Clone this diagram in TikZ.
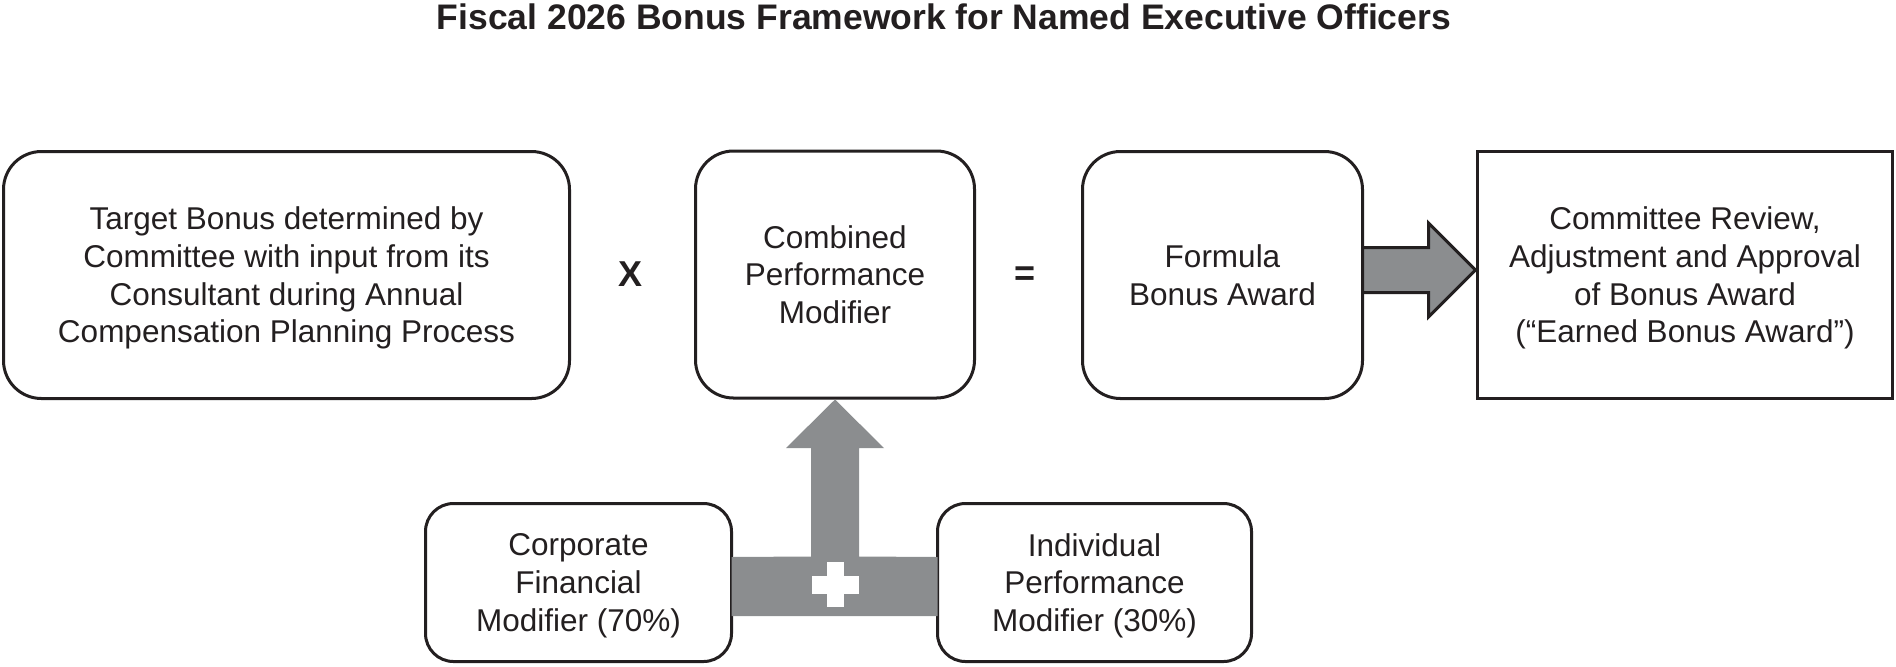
\documentclass[tikz,border=0pt]{standalone}
\usepackage{fontspec}
\setmainfont{Liberation Sans}
\usetikzlibrary{calc}
\definecolor{ink}{RGB}{35,31,32}
\definecolor{arrowgray}{RGB}{139,141,143}
\begin{document}
\begin{tikzpicture}[x=0.5pt,y=-0.5pt,
  txt/.style={font=\fontsize{15.75pt}{18.85pt}\selectfont, text=ink, align=center},
  boxbase/.style={txt, draw=ink, line width=1.5pt, inner sep=0pt, outer sep=0pt, fill=white},
  bigbox/.style={boxbase, rounded corners=19pt, minimum height=123.5pt},
  smallbox/.style={boxbase, rounded corners=14pt, minimum height=79pt},
  sqbox/.style={boxbase, minimum height=123.5pt},
  opsign/.style={font=\fontsize{18pt}{20pt}\selectfont\bfseries, text=ink, inner sep=0pt},
  grayarrow/.style={fill=arrowgray, draw=ink, line width=1.5pt, line join=miter},
  grayband/.style={fill=arrowgray, draw=none}
]
\useasboundingbox (0,0) rectangle (1896,666);

% title
\node[font=\fontsize{17.75pt}{20pt}\selectfont\bfseries, text=ink, inner sep=0pt] (title) at (944,17)
  {Fiscal 2026 Bonus Framework for Named Executive Officers};

% top row
\node[bigbox, minimum width=283pt] (b1) at (286.5,275)
  {Target Bonus determined by\\Committee with input from its\\Consultant during Annual\\\smash{Compensation Planning Process}};
\node[opsign] (times) at (630,274) {X};
\node[bigbox, minimum width=139.5pt] (b2) at (835,274.5)
  {Combined\\Performance\\Modifier};
\node[opsign] (eq) at (1025,276) {=};
\node[bigbox, minimum width=140pt] (b3) at (1222.5,275)
  {Formula\\Bonus Award};
\node[sqbox, minimum width=207.5pt] (b4) at (1685,275)
  {Committee Review,\\Adjustment and Approval\\of Bonus Award\\\smash{(“Earned Bonus Award”)}};

% bottom row
\node[smallbox, minimum width=153pt] (b5) at (578.5,582.5)
  {Corporate\\Financial\\\smash{Modifier (70\%)}};
\node[smallbox, minimum width=157pt] (b6) at (1094.5,582.5)
  {Individual\\Performance\\\smash{Modifier (30\%)}};

% arrow from Formula Bonus Award to Committee Review
\draw[grayarrow] ($(b3.east)+(0,-27.5)$) -- ($(b3.east)+(66,-27.5)$) -- ($(b3.east)+(66,-52)$)
  -- ($(b4.west)+(-2,-5)$) -- ($(b3.east)+(66,42)$) -- ($(b3.east)+(66,17.5)$)
  -- ($(b3.east)+(0,17.5)$) -- cycle;

% combining band and up arrow into Combined Performance Modifier
\fill[grayband] ($(b5.east)+(0,-25.5)$) -- ($(b2.south)+(-24,158.5)$) -- ($(b2.south)+(-24,50)$)
  -- ($(b2.south)+(-49,50)$) -- ($(b2.south)+(0,1.5)$) -- ($(b2.south)+(49,50)$)
  -- ($(b2.south)+(24,50)$) -- ($(b2.south)+(24,158.5)$) -- ($(b6.west)+(0,-25.5)$)
  -- ($(b6.west)+(0,33.5)$) -- ($(b5.east)+(0,33.5)$) -- cycle;

% plus sign
\coordinate (plus) at (835.5,584.5);
\fill[white] ($(plus)+(-23.5,-9)$) rectangle ($(plus)+(23.5,9)$);
\fill[white] ($(plus)+(-8.5,-22.5)$) rectangle ($(plus)+(8.5,22.5)$);
\end{tikzpicture}
\end{document}
